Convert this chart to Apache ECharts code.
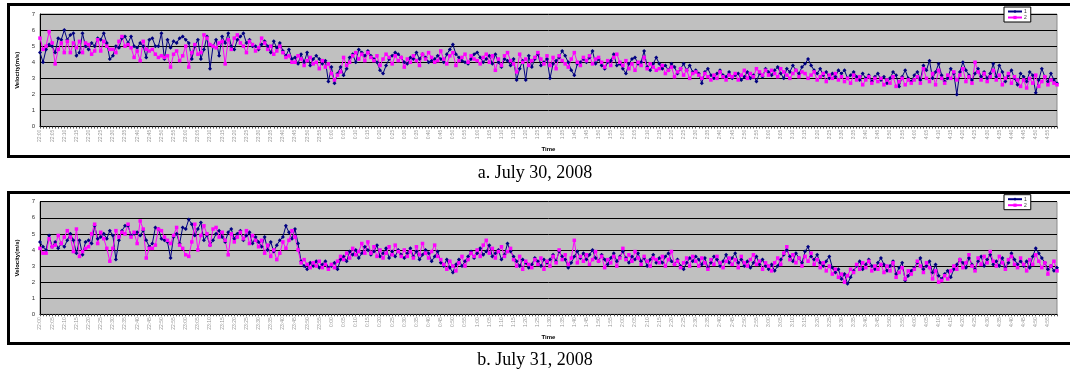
<!DOCTYPE html>
<html><head><meta charset="utf-8">
<script src="https://cdn.jsdelivr.net/npm/echarts@6/dist/echarts.min.js"></script>
<style>html,body{margin:0;padding:0;background:#fff}#c{width:1070px;height:378px}</style>
</head><body><div id="c"></div>
<script>
const tickLabels = [
'22:00','22:05','22:10','22:15','22:20','22:25','22:30','22:35','22:40','22:45','22:50','22:55',
'23:00','23:05','23:10','23:15','23:20','23:25','23:30','23:35','23:40','23:45','23:50','23:55',
'0:00','0:05','0:10','0:15','0:20','0:25','0:30','0:35','0:40','0:45','0:50','0:55',
'1:00','1:05','1:10','1:15','1:20','1:25','1:30','1:35','1:40','1:45','1:50','1:55',
'2:00','2:05','2:10','2:15','2:20','2:25','2:30','2:35','2:40','2:45','2:50','2:55',
'3:00','3:05','3:10','3:15','3:20','3:25','3:30','3:35','3:40','3:45','3:50','3:55',
'4:00','4:05','4:10','4:15','4:20','4:25','4:30','4:35','4:40','4:45','4:50','4:55'];
const samplesPerTick = 4;
const captions = ['a. July 30, 2008', 'b. July 31, 2008'];
const seriesNames = ['1', '2'];

const jul30s1 = [
4.6,4.0,4.8,5.1,5.0,4.6,5.5,5.4,6.0,5.4,5.7,5.8,
4.4,4.6,5.8,5.0,4.8,5.2,5.0,5.5,5.4,5.8,5.2,4.2,
4.4,5.0,4.9,5.5,5.6,5.2,5.6,5.0,4.9,5.2,5.0,4.3,
5.4,5.5,5.0,5.0,5.8,4.2,5.4,4.9,5.3,5.2,5.5,5.6,
5.4,5.2,4.2,5.0,5.4,4.2,4.8,5.6,3.6,5.0,5.4,4.4,
5.6,5.2,5.8,5.0,4.8,5.4,5.6,5.8,5.2,5.4,5.0,5.0,
4.8,5.1,5.3,5.0,4.6,5.3,4.9,5.2,4.7,4.4,4.8,4.2,
4.3,3.9,4.5,4.0,4.6,3.8,4.2,4.4,4.2,3.9,4.1,2.8,
3.7,2.7,3.3,3.7,3.2,3.6,4.3,4.5,4.0,4.8,4.6,4.4,
4.7,4.4,4.2,4.0,3.5,3.3,3.8,4.2,4.4,4.6,4.5,4.3,
4.0,3.9,4.3,4.2,4.6,4.2,4.5,4.3,4.0,4.1,4.2,4.4,
4.2,4.0,4.5,4.8,5.1,4.5,4.3,4.1,4.0,3.9,4.2,4.5,
4.6,4.3,4.0,4.2,4.4,3.9,4.5,4.0,3.7,4.2,4.1,3.8,
4.2,2.9,3.6,4.1,2.9,4.4,3.7,4.2,4.5,3.8,4.0,4.2,
3.0,3.9,4.1,4.3,4.7,4.4,4.0,3.5,3.2,3.9,4.0,4.2,
4.0,4.3,4.7,3.9,4.2,3.8,3.6,4.0,4.1,4.5,3.8,3.9,
3.6,3.3,3.9,4.2,4.3,3.9,4.0,4.7,3.7,3.5,3.9,4.3,
3.9,3.6,3.8,3.5,3.9,3.7,3.3,3.6,3.9,3.5,3.8,3.4,
3.5,3.3,2.7,3.4,3.6,3.2,3.0,3.3,3.5,3.2,3.1,3.4,
3.0,3.2,3.3,2.9,3.1,3.4,3.0,3.2,2.8,3.3,3.1,3.6,
3.4,3.2,3.5,3.7,3.3,3.0,3.6,3.4,3.8,3.5,3.3,3.7,
3.9,4.2,3.8,3.5,3.3,3.6,3.2,3.4,3.0,3.3,3.1,3.5,
3.3,3.5,3.0,3.2,3.4,3.1,2.9,3.3,3.0,3.2,2.8,3.1,
3.3,2.9,3.1,2.7,3.0,3.4,3.2,2.5,3.1,3.5,3.0,2.8,
3.2,3.4,2.9,3.8,3.5,4.1,3.0,3.4,3.9,3.2,2.8,3.0,
3.6,3.3,2.0,3.4,4.0,3.5,3.2,2.9,3.3,3.6,3.1,3.4,
3.0,3.3,3.9,3.1,3.8,3.4,2.8,3.2,3.5,3.0,2.6,3.3,
3.1,2.8,3.4,3.2,2.1,2.9,3.6,3.1,2.8,3.3,2.9,2.7];

const jul30s2 = [
5.5,4.8,5.0,5.9,5.2,3.9,4.8,5.2,4.6,5.3,4.6,5.2,
4.9,5.3,4.6,5.2,5.1,4.5,4.7,5.4,4.7,5.3,5.0,4.8,
4.8,4.6,5.3,5.6,5.0,5.1,4.9,4.3,4.7,4.1,5.3,4.8,
4.7,4.8,4.5,4.3,4.4,4.3,4.4,3.7,4.5,4.7,4.1,4.4,
5.0,3.7,4.6,5.1,4.5,4.6,5.7,5.5,5.1,5.0,4.9,5.2,
5.3,3.9,5.4,4.8,5.5,5.7,5.2,5.0,4.6,5.3,5.1,4.7,
4.9,5.5,5.2,4.8,5.0,4.5,4.7,5.0,4.6,4.3,4.4,4.0,
4.0,4.4,4.2,3.8,4.1,4.3,3.9,4.0,3.6,4.1,3.7,3.9,
3.3,2.9,3.2,3.4,4.3,3.8,4.0,4.4,4.6,4.2,4.5,4.1,
4.6,4.3,4.1,4.4,3.8,4.2,4.5,4.3,3.9,4.4,4.1,4.3,
3.7,4.2,4.0,4.4,4.1,3.8,4.5,4.2,4.6,4.3,4.0,4.1,
4.7,4.2,3.9,4.4,4.6,3.8,4.1,4.3,4.5,4.0,4.4,4.2,
4.1,3.9,4.3,4.5,4.0,4.4,3.5,4.2,3.8,4.4,4.6,4.1,
3.9,3.4,4.5,4.0,4.2,3.8,4.1,4.3,4.6,4.2,3.9,4.4,
3.8,4.3,3.6,4.4,4.1,3.9,3.7,4.2,4.6,4.0,3.8,4.3,
4.1,4.4,3.9,4.2,4.3,4.0,3.7,4.1,3.8,4.3,4.5,4.0,
3.8,4.1,3.6,3.9,3.5,4.0,3.8,4.3,3.6,3.9,3.7,3.5,
3.6,3.8,3.3,3.5,3.7,3.1,3.4,3.6,3.2,3.5,3.0,3.3,
3.4,3.2,3.0,3.3,3.1,2.9,3.2,3.0,3.4,3.1,2.9,3.2,
3.1,3.3,2.9,3.2,3.5,3.0,3.3,3.1,3.6,3.4,3.2,3.5,
3.2,3.5,3.3,3.1,3.6,3.4,3.2,3.0,3.3,3.5,3.1,3.4,
3.3,3.0,3.2,3.4,2.9,3.1,3.3,2.8,3.2,3.0,3.3,2.9,
3.1,2.8,3.0,2.7,3.2,2.9,3.1,2.6,2.9,3.1,2.7,3.0,
2.8,3.0,2.6,2.9,2.7,3.1,2.5,2.8,3.0,2.6,2.9,2.7,
2.9,3.1,2.7,3.6,3.0,2.8,3.3,2.6,3.5,3.0,2.7,3.2,
3.0,3.4,2.9,3.2,3.6,2.8,3.1,2.7,4.0,3.4,2.9,3.3,
2.8,3.1,3.5,2.9,3.2,2.6,3.0,3.3,2.7,3.1,2.9,2.5,
2.9,2.4,3.0,2.7,3.2,2.5,2.8,3.1,2.6,2.9,2.7,2.6];

const jul31s1 = [
4.5,4.2,4.0,4.9,4.2,4.5,4.1,4.4,4.2,4.6,5.0,4.6,
3.8,4.6,3.7,4.5,4.6,4.4,5.5,4.7,4.8,5.0,4.7,5.2,
4.9,3.4,4.6,5.2,5.5,5.5,4.9,5.0,5.1,4.9,5.2,4.6,
4.2,4.4,5.4,5.3,4.7,4.6,4.5,3.5,4.8,5.0,4.4,5.4,
5.3,5.9,5.6,4.9,5.3,5.7,4.6,4.9,4.3,4.6,5.0,5.2,
4.8,4.5,5.1,5.3,4.7,5.0,5.2,4.6,4.9,5.1,4.4,4.8,
4.5,4.2,4.8,4.0,4.5,3.9,4.3,4.6,4.8,5.5,5.1,4.7,
5.3,4.4,3.3,3.0,2.8,3.2,3.0,3.3,2.9,3.1,3.3,2.9,
3.0,3.2,2.8,3.4,3.6,3.3,3.9,3.7,4.0,3.5,3.8,4.2,
4.0,3.7,3.9,4.3,3.6,3.8,4.1,3.5,3.9,3.6,4.0,3.7,
3.5,3.8,4.1,3.6,3.9,3.4,3.7,4.0,3.8,3.3,3.6,3.9,
3.2,3.0,3.4,2.9,2.6,3.1,3.4,3.0,3.3,3.6,3.9,3.5,
3.8,4.1,3.7,3.9,4.3,3.6,3.8,4.0,3.4,3.7,4.4,3.9,
3.6,3.3,3.0,3.4,3.2,2.9,3.1,3.5,3.3,3.0,3.4,3.2,
3.4,3.7,3.3,3.9,3.6,3.4,2.9,3.2,3.6,3.9,3.5,3.8,
3.4,3.7,4.0,3.5,3.3,3.7,3.4,3.1,3.5,3.8,3.3,3.6,
3.9,3.5,3.2,3.6,3.4,3.8,3.3,3.5,3.0,3.4,3.7,3.2,
3.5,3.2,3.6,3.8,3.3,3.1,3.4,3.0,2.8,3.2,3.5,3.3,
3.6,3.4,3.1,3.5,2.9,3.2,3.6,3.4,3.0,3.3,3.7,3.2,
3.5,3.8,3.2,3.4,3.0,3.3,2.9,3.2,3.6,3.1,3.4,3.0,
2.8,3.1,2.7,3.0,3.4,3.7,4.0,3.6,3.3,3.8,3.5,3.2,
3.9,4.2,3.6,3.4,3.7,3.2,3.0,3.3,3.6,2.9,2.6,2.8,
2.2,2.5,1.9,2.3,2.7,3.0,3.3,2.8,3.1,3.4,3.0,2.8,
3.2,3.5,3.1,2.7,3.0,3.3,2.5,2.9,3.2,2.1,2.4,2.7,
2.9,3.2,3.5,2.8,3.0,3.3,2.6,3.1,2.4,2.2,2.5,2.7,
2.3,2.8,3.1,3.4,3.2,2.9,3.5,3.1,2.8,3.3,3.6,3.0,
3.4,3.7,3.1,3.3,3.0,3.5,2.9,3.2,3.8,3.4,3.1,3.3,
3.0,3.3,2.9,3.6,4.1,3.8,3.5,3.2,2.8,3.0,2.7,2.9];

const jul31s2 = [
4.1,3.8,3.8,4.7,4.2,4.3,4.9,4.4,4.8,5.2,4.8,3.9,
5.3,3.6,3.9,4.1,4.2,5.0,5.6,4.4,5.1,4.7,4.1,3.3,
4.1,5.2,4.8,5.1,5.0,5.6,4.8,5.1,4.4,5.8,5.3,3.5,
4.1,4.1,4.3,5.3,5.2,4.8,4.6,4.4,4.9,5.4,4.3,4.1,
3.7,3.6,4.5,5.6,4.0,4.9,5.5,5.0,4.3,5.3,5.4,4.8,
5.1,4.6,3.7,5.0,4.5,4.8,5.1,4.7,5.2,4.4,4.9,4.6,
4.2,4.6,3.8,4.3,3.6,4.0,3.4,3.8,4.5,4.1,4.6,5.2,
4.8,4.0,3.2,3.4,3.1,2.9,3.2,3.0,3.3,2.9,3.1,2.8,
3.1,2.9,3.3,3.6,3.4,3.8,3.5,4.1,3.7,3.9,4.4,3.8,
4.5,3.8,4.2,3.6,4.0,3.5,3.8,4.2,3.7,4.3,3.9,3.6,
4.0,3.6,3.9,3.5,4.2,3.7,4.4,3.8,3.5,3.9,4.3,3.6,
3.4,3.1,2.8,3.3,3.0,2.7,3.2,3.6,3.0,3.4,3.8,3.6,
4.0,3.6,4.3,4.6,3.8,4.1,3.5,3.9,4.2,3.6,3.9,4.1,
3.4,3.0,3.6,2.8,3.3,3.1,2.9,3.4,3.1,3.5,2.8,3.3,
3.0,3.6,3.2,4.0,3.4,3.7,3.1,3.5,4.6,3.2,3.6,3.3,
3.7,3.1,3.4,3.9,3.3,3.6,2.9,3.4,3.2,3.6,3.0,3.5,
4.1,3.4,3.7,3.3,3.9,3.5,3.1,3.6,3.3,3.0,3.5,3.4,
3.2,3.6,3.0,3.4,3.9,3.1,3.3,2.9,3.2,3.5,3.0,3.6,
3.3,3.0,3.5,3.2,2.8,3.4,3.1,3.6,3.2,2.9,3.3,3.5,
3.1,3.4,2.9,3.6,3.2,3.0,3.4,3.7,3.1,3.3,2.8,3.2,
3.0,2.7,3.2,3.5,3.1,3.8,4.2,3.4,3.7,3.2,3.5,3.0,
3.6,3.3,3.8,3.1,3.4,2.9,3.2,2.7,3.0,2.5,2.8,2.3,
2.5,2.0,2.4,2.8,2.6,3.1,2.8,3.2,2.9,3.3,2.7,3.0,
2.8,3.1,2.6,3.0,2.7,3.2,2.3,2.6,2.9,2.2,2.7,2.5,
2.8,3.3,3.0,2.6,3.2,2.9,2.2,2.7,2.0,2.1,2.4,2.2,
2.7,3.0,2.8,3.4,2.9,3.2,3.7,3.0,2.7,3.5,3.1,3.6,
3.2,3.9,3.3,3.0,3.6,3.2,2.8,3.4,3.6,3.1,2.9,3.5,
3.1,2.7,3.4,3.1,3.7,3.3,2.9,3.2,2.5,3.0,3.3,2.7];

// category axis: one category per sample, labelled on each 5-minute tick
const categories = [];
tickLabels.forEach(t => { for (let k = 0; k < samplesPerTick; k++) categories.push(k === 0 ? t : t + '.' + k); });

const panels = [{top: 14, s1: jul30s1, s2: jul30s2}, {top: 201.7, s1: jul31s1, s2: jul31s2}];

const grids = [], xAxes = [], yAxes = [], series = [], legends = [];
panels.forEach((p, i) => {
  grids.push({left: 40, top: p.top, width: 1017, height: 112.6, show: true,
    backgroundColor: '#C0C0C0', borderColor: '#8a8a8a', borderWidth: 1});
  xAxes.push({type: 'category', gridIndex: i, data: categories, boundaryGap: false,
    axisLine: {lineStyle: {color: '#000', width: 1}},
    axisTick: {interval: 0, length: 2, lineStyle: {color: '#555', width: 1}},
    axisLabel: {interval: samplesPerTick - 1, rotate: 90, fontSize: 5, color: '#9a9a9a', margin: 3,
      fontFamily: 'Liberation Sans, Arial'},
    name: 'Time', nameLocation: 'middle', nameGap: 20,
    nameTextStyle: {fontSize: 6, fontWeight: 'bold', color: '#000', fontFamily: 'Liberation Sans, Arial'}});
  yAxes.push({type: 'value', gridIndex: i, min: 0, max: 7, interval: 1,
    axisLine: {show: true, lineStyle: {color: '#000'}},
    axisTick: {show: false},
    splitLine: {lineStyle: {color: '#000', width: 1}},
    axisLabel: {fontSize: 6, color: '#333', margin: 5, fontFamily: 'Liberation Sans, Arial'},
    name: 'Velocity(m/s)', nameLocation: 'middle', nameGap: 12,
    nameTextStyle: {fontSize: 6, fontWeight: 'bold', color: '#000', fontFamily: 'Liberation Sans, Arial'}});
  series.push({name: seriesNames[0], type: 'line', xAxisIndex: i, yAxisIndex: i, data: p.s1,
    symbol: 'diamond', symbolSize: 4, showAllSymbol: true,
    lineStyle: {color: '#000080', width: 1}, itemStyle: {color: '#000080'}});
  series.push({name: seriesNames[1], type: 'line', xAxisIndex: i, yAxisIndex: i, data: p.s2,
    symbol: 'rect', symbolSize: 3.5, showAllSymbol: true,
    lineStyle: {color: '#FF00FF', width: 1}, itemStyle: {color: '#FF00FF'}});
  legends.push({data: seriesNames, left: 1004, top: p.top - 7, orient: 'vertical',
    itemWidth: 14, itemHeight: 4, itemGap: 1, padding: [2, 4, 2, 3],
    borderColor: '#000', borderWidth: 1, backgroundColor: '#fff',
    textStyle: {fontSize: 5, color: '#333', padding: [0, 0, 0, -3]}});
});

const chart = echarts.init(document.getElementById('c'));
chart.setOption({
  animation: false,
  grid: grids, xAxis: xAxes, yAxis: yAxes, series: series, legend: legends,
  graphic: [
    {type: 'rect', shape: {x: 8.5, y: 4.5, width: 1066, height: 152}, style: {fill: null, stroke: '#000', lineWidth: 3}, silent: true},
    {type: 'rect', shape: {x: 8.5, y: 192.5, width: 1066, height: 151}, style: {fill: null, stroke: '#000', lineWidth: 3}, silent: true},
    {type: 'text', x: 535, y: 173, style: {text: captions[0], fontSize: 18, fontFamily: 'Liberation Serif, Times New Roman', fill: '#000', textAlign: 'center', textVerticalAlign: 'middle'}},
    {type: 'text', x: 535, y: 360, style: {text: captions[1], fontSize: 18, fontFamily: 'Liberation Serif, Times New Roman', fill: '#000', textAlign: 'center', textVerticalAlign: 'middle'}}
  ]
});
</script></body></html>
